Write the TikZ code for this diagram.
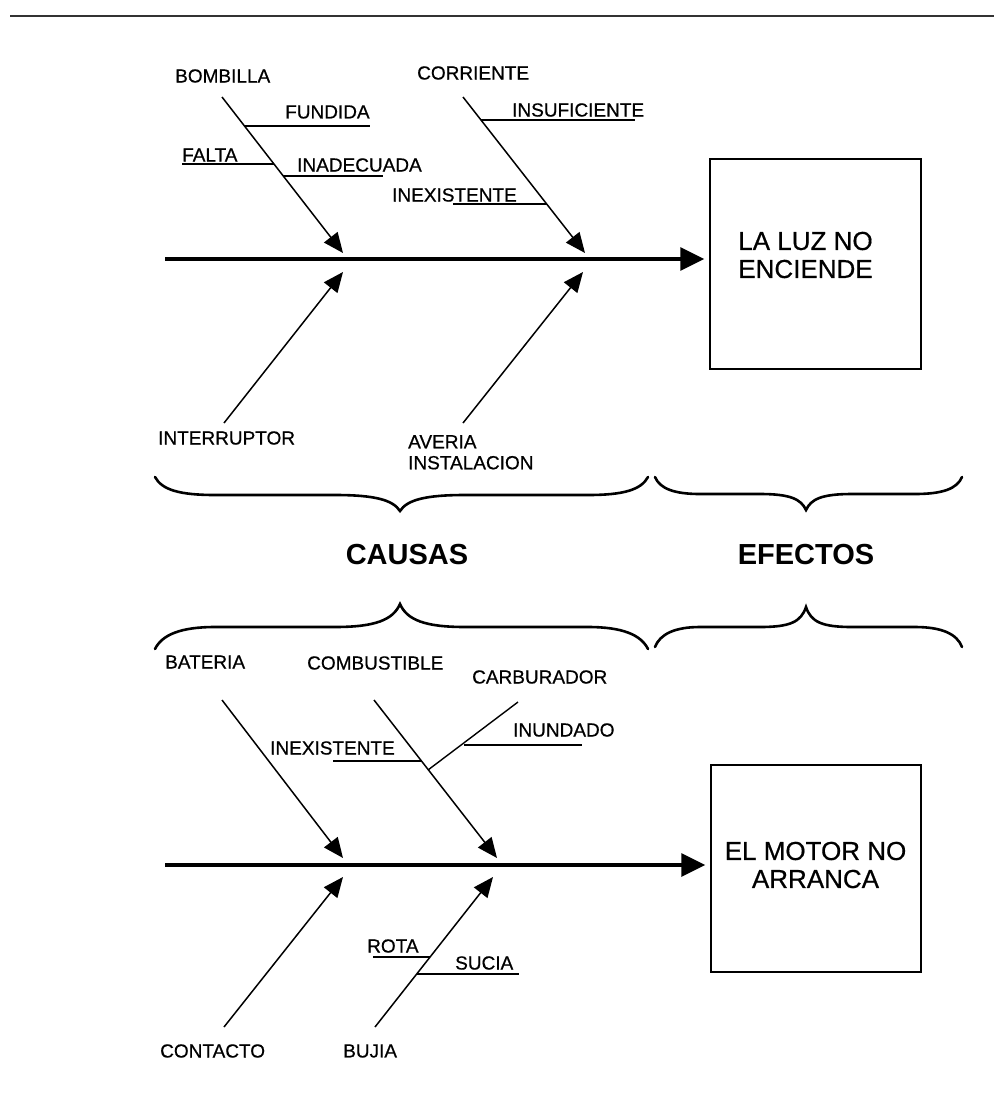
\documentclass[tikz,border=0pt]{standalone}
\usepackage{fontspec}
\setmainfont{Liberation Sans}
\newfontfamily\lblfont[FakeBold=0.6]{Liberation Sans}
\usetikzlibrary{arrows.meta}
\tikzset{
  lbl/.style={anchor=west,inner sep=0pt,font=\lblfont\fontsize{19}{21}\selectfont},
  bone/.style={line width=1.5pt,-{Triangle[length=20pt,width=17pt]}},
  sub/.style={line width=1.2pt},
  spine/.style={line width=3.5pt,-{Triangle[length=24pt,width=23pt]},shorten >=5pt},
  effbox/.style={draw,line width=1.5pt,inner sep=0pt},
  efftext/.style={inner sep=0pt,align=center,font=\lblfont\fontsize{26}{28}\selectfont},
  bracestyle/.style={line width=2.6pt,line cap=round},
  head/.style={inner sep=0pt,font=\fontsize{29}{31}\selectfont\bfseries}
}
\begin{document}
\begin{tikzpicture}[x=1pt,y=-1pt]
\useasboundingbox (0,0) rectangle (994,1100);
% top rule
\coordinate (r1) at (10,16);
\coordinate (r2) at (994,16);
\draw[line width=2pt,black!80] (r1) -- (r2);

% ===== upper diagram =====
\node[effbox,minimum width=211pt,minimum height=210pt] (box1) at (815.5,264) {};
\node[efftext] (t1) at (805.5,255) {LA LUZ NO\\ENCIENDE};
\coordinate (s1) at (165,259);
\draw[spine] (s1) -- (s1 -| box1.west);

\node[lbl] (bombilla) at (175,76) {BOMBILLA};
\coordinate (b1s) at (222,97); \coordinate (b1e) at (343,253);
\draw[bone] (b1s) -- (b1e);
\node[lbl] (fundida) at (285,112) {FUNDIDA};
\coordinate (f1) at (244,126); \coordinate (f2) at (370,126);
\draw[sub] (f1) -- (f2);
\node[lbl] (falta) at (182,155) {FALTA};
\coordinate (fa1) at (182,164); \coordinate (fa2) at (274,164);
\draw[sub] (fa1) -- (fa2);
\node[lbl] (inadecuada) at (297,165) {INADECUADA};
\coordinate (in1) at (283,176); \coordinate (in2) at (383,176);
\draw[sub] (in1) -- (in2);

\node[lbl] (corriente) at (417,73) {CORRIENTE};
\coordinate (b2s) at (463,97); \coordinate (b2e) at (585,253);
\draw[bone] (b2s) -- (b2e);
\node[lbl] (insuf) at (512,110) {INSUFICIENTE};
\coordinate (is1) at (481,120); \coordinate (is2) at (635,120);
\draw[sub] (is1) -- (is2);
\node[lbl] (inex1) at (392,195) {INEXISTENTE};
\coordinate (ie1) at (453,204); \coordinate (ie2) at (547,204);
\draw[sub] (ie1) -- (ie2);

\node[lbl] (interruptor) at (158,438) {INTERRUPTOR};
\coordinate (b3s) at (224,423); \coordinate (b3e) at (343,272);
\draw[bone] (b3s) -- (b3e);
\node[lbl,anchor=north west,align=left] (averia) at (408,435) {AVERIA\\INSTALACION};
\coordinate (b4s) at (463,423); \coordinate (b4e) at (583,272);
\draw[bone] (b4s) -- (b4e);

% ===== braces =====
\draw[bracestyle] (155,477) .. controls (162,490) and (180,495) .. (215,495) -- (335,495)
  .. controls (375,495) and (393,500) .. (400,511)
  .. controls (407,500) and (425,495) .. (465,495) -- (588,495)
  .. controls (623,495) and (641,490) .. (648,477);
\draw[bracestyle] (655,477) .. controls (660,489) and (675,494) .. (700,494) -- (760,494)
  .. controls (790,494) and (801,499) .. (806,510)
  .. controls (811,499) and (822,494) .. (852,494) -- (915,494)
  .. controls (942,494) and (957,489) .. (962,477);
\node[head] (causas) at (407,555) {CAUSAS};
\node[head] (efectos) at (806,555) {EFECTOS};
\draw[bracestyle] (155,649) .. controls (162,635) and (180,627) .. (215,627) -- (335,627)
  .. controls (375,627) and (393,620) .. (400,604)
  .. controls (407,620) and (425,627) .. (465,627) -- (588,627)
  .. controls (623,627) and (641,635) .. (648,649);
\draw[bracestyle] (655,647) .. controls (660,634) and (675,627) .. (700,627) -- (760,627)
  .. controls (790,627) and (801,622) .. (806,607)
  .. controls (811,622) and (822,627) .. (852,627) -- (915,627)
  .. controls (942,627) and (957,634) .. (962,647);

% ===== lower diagram =====
\node[effbox,minimum width=210pt,minimum height=207pt] (box2) at (816,868.5) {};
\node[efftext] (t2) at (815.5,865) {EL MOTOR NO\\ARRANCA};
\coordinate (s2) at (165,865);
\draw[spine] (s2) -- (s2 -| box2.west);

\node[lbl] (bateria) at (165,662) {BATERIA};
\coordinate (b5s) at (222,700); \coordinate (b5e) at (343,858);
\draw[bone] (b5s) -- (b5e);
\node[lbl] (combustible) at (307,663) {COMBUSTIBLE};
\coordinate (b6s) at (374,700); \coordinate (b6e) at (497,858);
\draw[bone] (b6s) -- (b6e);
\node[lbl] (carburador) at (472,677) {CARBURADOR};
\coordinate (c1) at (518,702); \coordinate (c2) at (428,770);
\draw[sub,line width=1.4pt] (c1) -- (c2);
\node[lbl] (inundado) at (513,730) {INUNDADO};
\coordinate (iu1) at (464,745); \coordinate (iu2) at (582,745);
\draw[sub] (iu1) -- (iu2);
\node[lbl] (inex2) at (270,748) {INEXISTENTE};
\coordinate (ie3) at (333,761); \coordinate (ie4) at (421,761);
\draw[sub] (ie3) -- (ie4);

\node[lbl] (contacto) at (160,1051) {CONTACTO};
\coordinate (b7s) at (224,1027); \coordinate (b7e) at (343,877);
\draw[bone] (b7s) -- (b7e);
\node[lbl] (bujia) at (343,1051) {BUJIA};
\coordinate (b8s) at (375,1027); \coordinate (b8e) at (493,877);
\draw[bone] (b8s) -- (b8e);
\node[lbl] (rota) at (367,946) {ROTA};
\coordinate (ro1) at (373,957); \coordinate (ro2) at (430,957);
\draw[sub] (ro1) -- (ro2);
\node[lbl] (sucia) at (455,963) {SUCIA};
\coordinate (su1) at (417,974); \coordinate (su2) at (519,974);
\draw[sub] (su1) -- (su2);
\end{tikzpicture}
\end{document}
